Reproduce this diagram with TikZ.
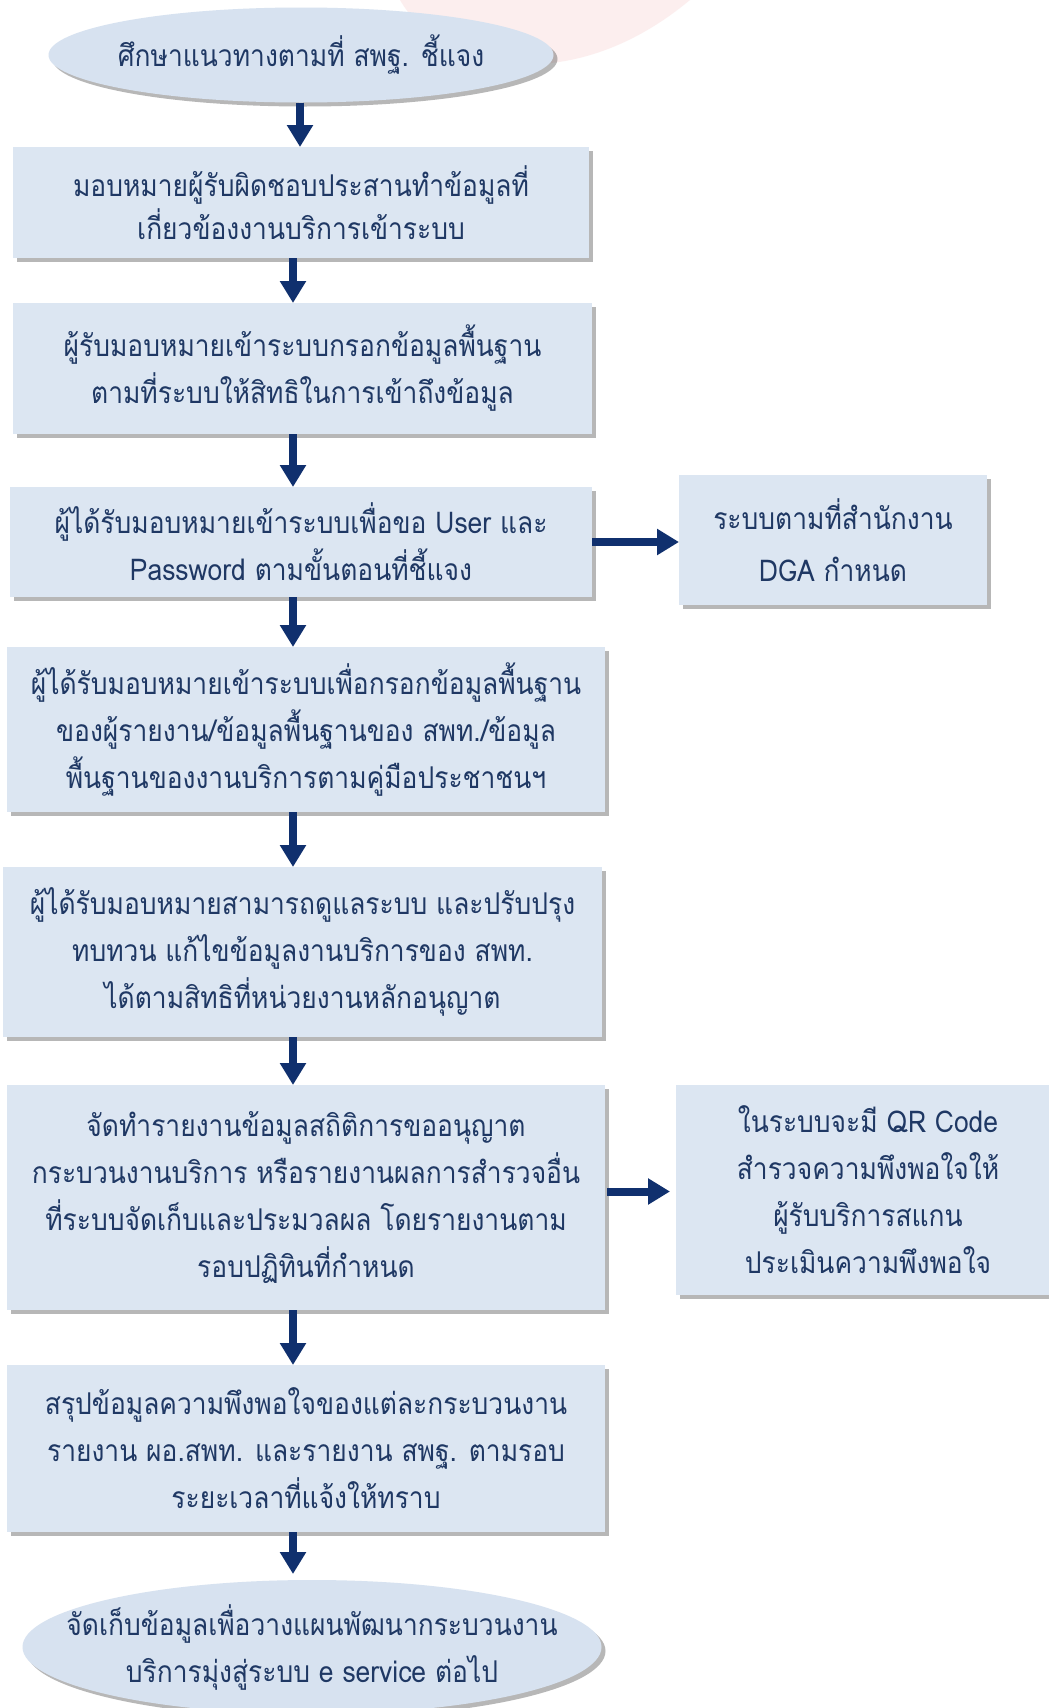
\documentclass[tikz,border=0pt]{standalone}
\usepackage{fontspec}
\newfontfamily\thaifont[Script=Thai,FakeStretch=0.88]{Loma}
\usetikzlibrary{shapes.geometric,arrows.meta,shadows,calc}
\definecolor{boxfill}{HTML}{DCE6F2}
\definecolor{ellfill}{HTML}{D7E2F0}
\definecolor{txtcol}{HTML}{1F3864}
\definecolor{arrcol}{HTML}{10306E}
\definecolor{pinkbg}{HTML}{FBE4E4}
\begin{document}
\begin{tikzpicture}[x=1pt,y=-1pt,
  every node/.style={inner sep=0pt,outer sep=0pt},
  txt/.style={align=center,text=txtcol,font=\thaifont\fontsize{30}{47}\selectfont},
  stepbox/.style={txt,rectangle,fill=boxfill,
    drop shadow={shadow xshift=4pt,shadow yshift=-4pt,opacity=0.4,fill=black!70}},
  endell/.style={ellipse,fill=ellfill,
    drop shadow={shadow xshift=4pt,shadow yshift=-4pt,opacity=0.4,fill=black!70}},
  flow/.style={draw=arrcol,line width=8pt,-{Triangle[width=25pt,length=22pt]}}]
\useasboundingbox (0,0) rectangle (1049,1708);
\fill[white] (0,0) rectangle (1049,1708);
\fill[pinkbg,opacity=0.6] (400,0) .. controls (440,70) and (570,100) .. (690,0) -- cycle;

\node[endell,minimum width=505pt,minimum height=95pt] (e1) at (301,55) {};
\node[txt] (e1t) at (e1.center) {ศึกษาแนวทางตามที่ สพฐ. ชี้แจง};
\node[stepbox,minimum width=576pt,minimum height=111pt,font=\thaifont\fontsize{30}{43}\selectfont] (b1) at (301,202.5) {มอบหมายผู้รับผิดชอบประสานทำข้อมูลที่\\เกี่ยวข้องงานบริการเข้าระบบ};
\node[stepbox,minimum width=579pt,minimum height=131pt] (b2) at (302.5,368.5) {ผู้รับมอบหมายเข้าระบบกรอกข้อมูลพื้นฐาน\\ตามที่ระบบให้สิทธิในการเข้าถึงข้อมูล};
\node[stepbox,minimum width=582pt,minimum height=110pt] (b3) at (301,542) {ผู้ได้รับมอบหมายเข้าระบบเพื่อขอ User และ\\Password ตามขั้นตอนที่ชี้แจง};
\node[stepbox,minimum width=308pt,minimum height=130pt,font=\thaifont\fontsize{30}{52}\selectfont] (s1) at (833,540) {ระบบตามที่สำนักงาน\\DGA กำหนด};
\node[stepbox,minimum width=598pt,minimum height=165pt] (b4) at (306,729.5) {ผู้ได้รับมอบหมายเข้าระบบเพื่อกรอกข้อมูลพื้นฐาน\\ของผู้รายงาน/ข้อมูลพื้นฐานของ สพท./ข้อมูล\\พื้นฐานของงานบริการตามคู่มือประชาชนฯ};
\node[stepbox,minimum width=599pt,minimum height=170pt] (b5) at (302.5,952) {ผู้ได้รับมอบหมายสามารถดูแลระบบ และปรับปรุง\\ทบทวน แก้ไขข้อมูลงานบริการของ สพท.\\ได้ตามสิทธิที่หน่วยงานหลักอนุญาต};
\node[stepbox,minimum width=598pt,minimum height=225pt] (b6) at (306,1197.5) {จัดทำรายงานข้อมูลสถิติการขออนุญาต\\กระบวนงานบริการ หรือรายงานผลการสำรวจอื่น\\ที่ระบบจัดเก็บและประมวลผล โดยรายงานตาม\\รอบปฏิทินที่กำหนด};
\node[stepbox,minimum width=384pt,minimum height=210pt] (s2) at (868,1190) {ในระบบจะมี QR Code\\สำรวจความพึงพอใจให้\\ผู้รับบริการสแกน\\ประเมินความพึงพอใจ};
\node[stepbox,minimum width=598pt,minimum height=167pt] (b7) at (306,1448.5) {สรุปข้อมูลความพึงพอใจของแต่ละกระบวนงาน\\รายงาน ผอ.สพท. และรายงาน สพฐ. ตามรอบ\\ระยะเวลาที่แจ้งให้ทราบ};
\node[endell,minimum width=579pt,minimum height=134pt] (e2) at (312,1647) {};
\node[txt] (e2t) at (e2.center) {จัดเก็บข้อมูลเพื่อวางแผนพัฒนากระบวนงาน\\บริการมุ่งสู่ระบบ e service ต่อไป};

\coordinate (ax) at (293,0);
\coordinate (ax1) at (300,0);
\draw[flow] (e1.south -| ax1) -- (b1.north -| ax1);
\draw[flow] (b1.south -| ax) -- (b2.north -| ax);
\draw[flow] (b2.south -| ax) -- (b3.north -| ax);
\draw[flow] (b3.south -| ax) -- (b4.north -| ax);
\draw[flow] (b4.south -| ax) -- (b5.north -| ax);
\draw[flow] (b5.south -| ax) -- (b6.north -| ax);
\draw[flow] (b6.south -| ax) -- (b7.north -| ax);
\draw[flow] (b7.south -| ax) -- ($(e2.north -| ax)+(0,-6)$);
\draw[flow] (b3.east) -- (s1.west |- b3.east);
\draw[flow] ($(b6.east)+(2,-6)$) -- ($(s2.west |- b6.east)+(-6,-6)$);
\end{tikzpicture}
\end{document}
